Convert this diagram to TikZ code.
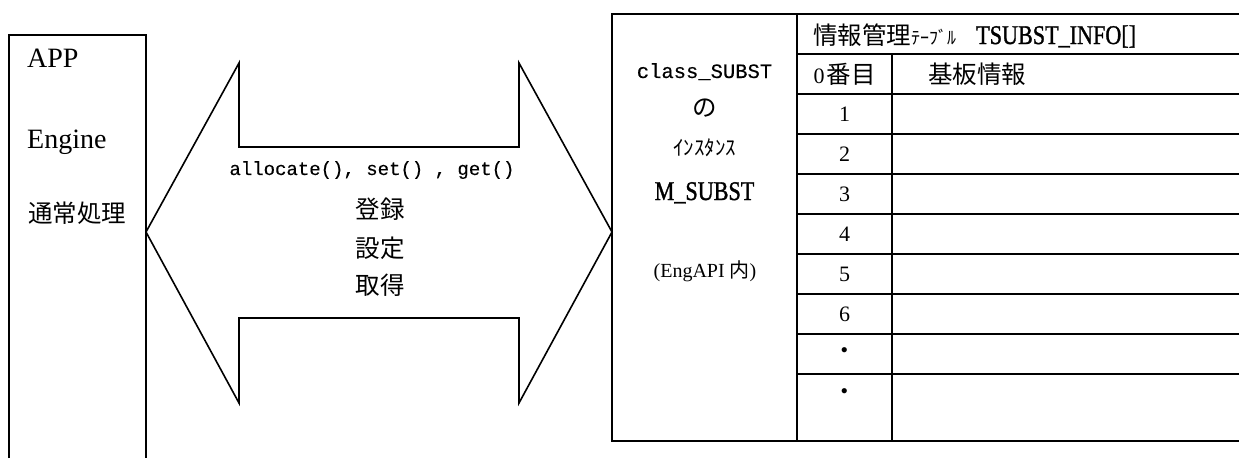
\documentclass[tikz,border=0pt]{standalone}
\usepackage{fontspec}
\setmainfont{Liberation Serif}
\newfontfamily\jpfam{Noto Sans CJK JP}
\newfontfamily\monofam[FakeBold=0.3]{Liberation Mono}
\newfontfamily\condfam[FakeStretch=0.82,FakeBold=1.2]{Liberation Serif}
\newcommand\JPtxt{\jpfam\fontsize{24.5}{29}\selectfont}
\newcommand\MONOtxt{\monofam\fontsize{19}{22}\selectfont}
\newcommand\LATbig{\rmfamily\fontsize{28}{32}\selectfont}
\newcommand\CONDtxt{\condfam\fontsize{27}{30}\selectfont}
\begin{document}
\begin{tikzpicture}[x=1pt,y=-1pt,
  thinline/.style={line width=1.6pt, line join=miter},
  tabline/.style={line width=2.4pt},
  lbl/.style={inner sep=0pt, anchor=base}]
\useasboundingbox (0,0) rectangle (1239,458);

% left box (open at the bottom)
\coordinate (lbBL) at (9,458);
\coordinate (lbTL) at (9,35);
\coordinate (lbTR) at (146,35);
\coordinate (lbBR) at (146,458);
\draw[thinline] (lbBL) -- (lbTL) -- (lbTR) -- (lbBR);

\node[lbl, anchor=base west] (app) at (27,67) {\LATbig APP};
\node[lbl, anchor=base west] (engine) at (27,148) {\LATbig Engine};
\node[lbl, anchor=base west] (tsujo) at (28,222) {\JPtxt 通常処理};

% double arrow
\draw[thinline] (146,232) -- (239,63) -- (239,147) -- (519,147) -- (519,63)
  -- (612,232) -- (519,403) -- (519,318) -- (239,318) -- (239,403) -- cycle;

\node[lbl] (api) at (372,175) {\MONOtxt allocate(), set() , get()};
\node[lbl] (toroku) at (380,218) {\JPtxt 登録};
\node[lbl] (settei) at (380,257) {\JPtxt 設定};
\node[lbl] (shutoku) at (380,294) {\JPtxt 取得};

% table
\draw[tabline] (1239,14) -- (612,14) -- (612,441) -- (1239,441);
\draw[tabline] (797,14) -- (797,441);
\draw[tabline] (892,54) -- (892,441);
\draw[tabline] (797,54) -- (1239,54);
\foreach \yy in {94,134,174,214,254,294,334,374} {
  \draw[tabline] (797,\yy) -- (1239,\yy);
}

\node[lbl] (cls) at (704.5,78) {\monofam\fontsize{20.5}{24}\selectfont class\_SUBST};
\node[lbl] (no) at (704.5,116) {\JPtxt の};
\node[lbl] (inst) at (704.5,155) {\jpfam\fontsize{21}{24}\selectfont ｲﾝｽﾀﾝｽ};
\node[lbl] (msubst) at (704.5,200) {\CONDtxt M\_SUBST};
\node[lbl] (engapi) at (705,277) {\rmfamily\fontsize{20}{23}\selectfont (EngAPI {\jpfam 内})};

\node[lbl, anchor=base west] (hdr) at (813,44) {\JPtxt 情報管理{\fontsize{18}{20}\selectfont ﾃｰﾌﾞﾙ}};
\node[lbl, anchor=base west] (tinfo) at (976,44) {\CONDtxt TSUBST\_INFO[]};

\node[lbl] (r0) at (844.5,83) {{\rmfamily\fontsize{22}{24}\selectfont 0\hspace{2pt}}{\JPtxt 番目}};
\node[lbl, anchor=base west] (kiban) at (928,83) {\JPtxt 基板情報};

\foreach \k in {1,...,6} {
  \node[lbl] (r\k) at (844.5,{121.5+40*(\k-1)}) {\rmfamily\fontsize{22}{24}\selectfont \k};
}
\node[inner sep=0pt] (dot1) at (844.5,354) {\JPtxt ・};
\node[inner sep=0pt] (dot2) at (844.5,395) {\JPtxt ・};
\end{tikzpicture}
\end{document}
